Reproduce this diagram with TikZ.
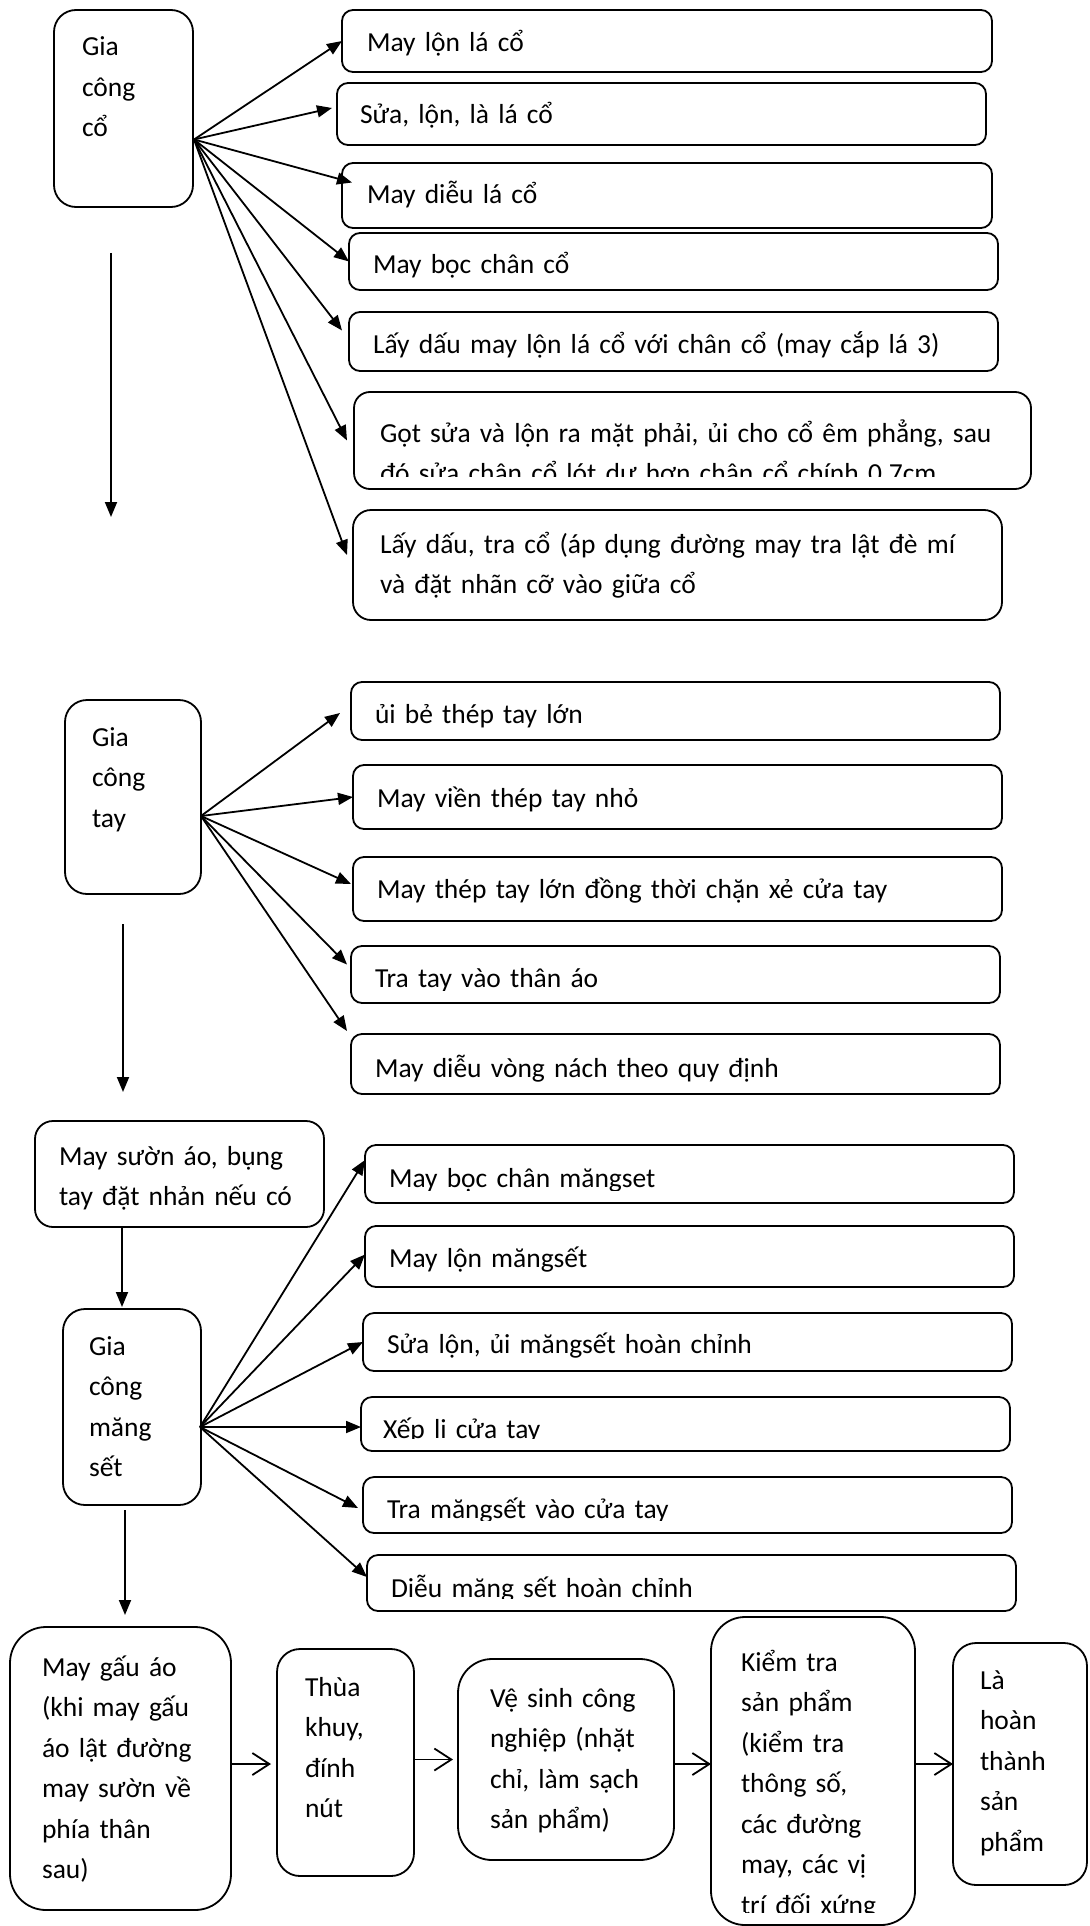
\documentclass[tikz,border=0pt]{standalone}
\usepackage{fontspec}
\setmainfont{Carlito}
\usetikzlibrary{arrows.meta, positioning, calc}

\begin{document}
\begin{tikzpicture}[x=1pt, y=-1pt,
    khung/.style={draw, line width=1.8pt, rounded corners=#1, inner sep=0pt, outer sep=0pt, anchor=north west},
    khung/.default=11pt,
    chu/.style 2 args={path picture={
        \clip ([yshift=13pt]path picture bounding box.south west) rectangle (path picture bounding box.north east);
        \node[anchor=base west, draw=none, inner sep=0pt, minimum width=0pt, minimum height=0pt,
              text width=700pt, align=left, font=\fontsize{27.5}{40.5}\selectfont]
          at ([shift={(#2)}]path picture bounding box.north west) {#1};}},
    muiten/.style={line width=1.8pt, -{Triangle[length=15pt, width=12pt]}},
    muimo/.style={line width=1.8pt, -{Straight Barb[length=17pt, width=22pt]}}
  ]
  \useasboundingbox (0,0) rectangle (1089,1926);

  % Gia cong co
  \node[khung=22pt, minimum width=139pt, minimum height=197pt, chu={Gia\\công\\cổ}{28,46}] (co) at (54,10) {};
  \node[khung, minimum width=650pt, minimum height=62pt, chu={May lộn lá cổ}{25,42}] (co1) at (342,10) {};
  \node[khung, minimum width=649pt, minimum height=62pt, chu={Sửa, lộn, là lá cổ}{23,41}] (co2) at (337,83) {};
  \node[khung, minimum width=650pt, minimum height=65pt, chu={May diễu lá cổ}{25,41}] (co3) at (342,163) {};
  \node[khung, minimum width=649pt, minimum height=57pt, chu={May bọc chân cổ}{24,40}] (co4) at (349,233) {};
  \node[khung, minimum width=649pt, minimum height=59pt, chu={Lấy dấu may lộn lá cổ với chân cổ (may cắp lá 3)}{24,41}] (co5) at (349,312) {};
  \node[khung=16pt, minimum width=677pt, minimum height=97pt, chu={Gọt sửa và lộn ra mặt phải, ủi cho cổ êm phẳng, sau\\đó sửa chân cổ lót dư hơn chân cổ chính 0.7cm}{26,50}] (co6) at (354,392) {};
  \node[khung=18pt, minimum width=649pt, minimum height=110pt, chu={Lấy dấu, tra cổ (áp dụng đường may tra lật đè mí\\và đặt nhãn cỡ vào giữa cổ}{27,43}] (co7) at (353,510) {};

  \coordinate (co-goc) at ([shift={(1,31)}]co.east);
  \draw[muiten] (co-goc) -- (co1.west);
  \draw[muiten] (co-goc) -- ([shift={(-5,-6)}]co2.west);
  \draw[muiten] (co-goc) -- ([shift={(10,-13)}]co3.west);
  \draw[muiten] (co-goc) -- (co4.west);
  \draw[muiten] (co-goc) -- ([shift={(-7,-11)}]co5.west);
  \draw[muiten] (co-goc) -- ([shift={(-7,0)}]co6.west);
  \draw[muiten] (co-goc) -- ([shift={(-6,-10)}]co7.west);

  \coordinate (co-tren) at (111,253);
  \coordinate (co-duoi) at (111,517);
  \draw[muiten] (co-tren) -- (co-duoi);

  % Gia cong tay
  \node[khung=22pt, minimum width=136pt, minimum height=194pt, chu={Gia\\công\\tay}{27,46}] (tay) at (65,700) {};
  \node[khung, minimum width=649pt, minimum height=58pt, chu={ủi bẻ thép tay lớn}{24,41}] (tay1) at (351,682) {};
  \node[khung, minimum width=649pt, minimum height=64pt, chu={May viền thép tay nhỏ}{24,42}] (tay2) at (353,765) {};
  \node[khung, minimum width=649pt, minimum height=64pt, chu={May thép tay lớn đồng thời chặn xẻ cửa tay}{24,41}] (tay3) at (353,857) {};
  \node[khung, minimum width=649pt, minimum height=57pt, chu={Tra tay vào thân áo}{24,41}] (tay4) at (351,946) {};
  \node[khung, minimum width=649pt, minimum height=60pt, chu={May diễu vòng nách theo quy định}{24,43}] (tay5) at (351,1034) {};

  \coordinate (tay-goc) at ([shift={(0,19)}]tay.east);
  \draw[muiten] (tay-goc) -- ([shift={(-11,2)}]tay1.west);
  \draw[muiten] (tay-goc) -- (tay2.west);
  \draw[muiten] (tay-goc) -- ([shift={(-2,-5)}]tay3.west);
  \draw[muiten] (tay-goc) -- ([shift={(-4,-10)}]tay4.west);
  \draw[muiten] (tay-goc) -- ([shift={(-4,-3)}]tay5.north west);

  \coordinate (tay-tren) at (123,924);
  \coordinate (tay-duoi) at (123,1092);
  \draw[muiten] (tay-tren) -- (tay-duoi);

  % May suon, gia cong mang set
  \node[khung=18pt, minimum width=289pt, minimum height=106pt, chu={May sườn áo, bụng\\tay đặt nhản nếu có}{24,44}] (suon) at (35,1121) {};
  \node[khung=22pt, minimum width=138pt, minimum height=196pt, chu={Gia\\công\\măng\\sết}{26,46}] (mang) at (63,1309) {};
  \node[khung, minimum width=649pt, minimum height=58pt, chu={May bọc chân măngset}{24,42}] (mang1) at (365,1145) {};
  \node[khung, minimum width=649pt, minimum height=61pt, chu={May lộn măngsết}{24,41}] (mang2) at (365,1226) {};
  \node[khung, minimum width=649pt, minimum height=58pt, chu={Sửa lộn, ủi măngsết hoàn chỉnh}{24,40}] (mang3) at (363,1313) {};
  \node[khung, minimum width=649pt, minimum height=54pt, chu={Xếp li cửa tay}{22,41}] (mang4) at (361,1397) {};
  \node[khung, minimum width=649pt, minimum height=56pt, chu={Tra măngsết vào cửa tay}{24,41}] (mang5) at (363,1477) {};
  \node[khung, minimum width=649pt, minimum height=56pt, chu={Diễu măng sết hoàn chỉnh}{24,42}] (mang6) at (367,1555) {};

  \coordinate (mang-dinh) at ([shift={(-10,-2)}]mang.north);
  \draw[muiten] (suon.south -| mang-dinh) -- (mang-dinh);

  \coordinate (mang-goc) at ([shift={(-1,20)}]mang.east);
  \draw[muiten] (mang-goc) -- ([shift={(0,-14)}]mang1.west);
  \draw[muiten] (mang-goc) -- ([shift={(0,-2)}]mang2.west);
  \draw[muiten] (mang-goc) -- (mang3.west);
  \draw[muiten] (mang-goc) -- (mang4.west |- mang-goc);
  \draw[muiten] (mang-goc) -- ([shift={(-5,3)}]mang5.west);
  \draw[muiten] (mang-goc) -- ([shift={(0,-6)}]mang6.west);

  % Hang cuoi
  \node[khung=36pt, minimum width=221pt, minimum height=283pt, chu={May gấu áo\\(khi may gấu\\áo lật đường\\may sườn về\\phía thân\\sau)}{32,49}] (gau) at (10,1627) {};
  \node[khung=23pt, minimum width=137pt, minimum height=227pt, chu={Thùa\\khuy,\\đính\\nút}{28,47}] (thua) at (277,1649) {};
  \node[khung=34pt, minimum width=216pt, minimum height=201pt, chu={Vệ sinh công\\nghiệp (nhặt\\chỉ, làm sạch\\sản phẩm)}{32,48}] (vesinh) at (458,1659) {};
  \node[khung=34pt, minimum width=204pt, minimum height=308pt, chu={Kiểm tra\\sản phẩm\\(kiểm tra\\thông số,\\các đường\\may, các vị\\trí đối xứng}{30,54}] (kiem) at (711,1617) {};
  \node[khung=23pt, minimum width=134pt, minimum height=242pt, chu={Là\\hoàn\\thành\\sản\\phẩm}{27,46}] (hoan) at (953,1643) {};

  \coordinate (mang-day) at ([shift={(-7,5)}]mang.south);
  \draw[muiten] (mang-day) -- ([shift={(4.5,-12)}]gau.north);

  \draw[muimo] (gau.east |- hoan.west) -- ([xshift=-6pt]thua.west |- hoan.west);
  \draw[muimo] (thua.east |- vesinh.west) -- ([xshift=-5pt]vesinh.west);
  \draw[muimo] (vesinh.east |- hoan.west) -- (kiem.west |- hoan.west);
  \draw[muimo] (kiem.east |- hoan.west) -- (hoan.west);
\end{tikzpicture}
\end{document}
